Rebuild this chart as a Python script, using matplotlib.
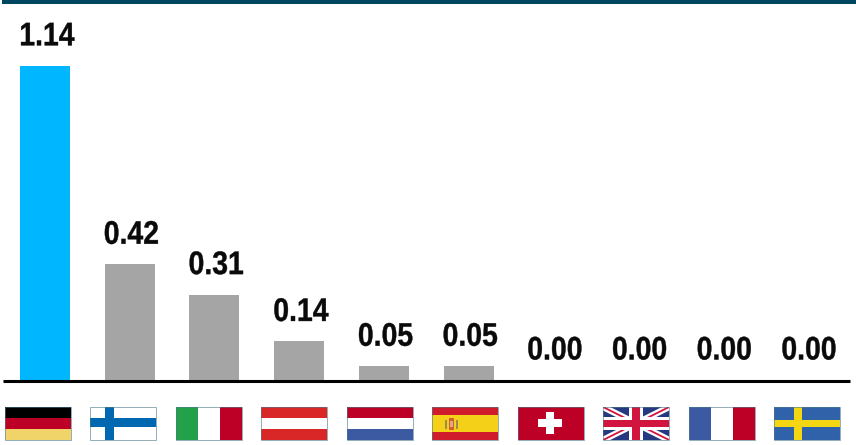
import matplotlib
matplotlib.use("Agg")
import matplotlib.pyplot as plt
import matplotlib.patheffects as pe
from matplotlib.patches import Rectangle
from matplotlib.transforms import Affine2D

# values per country
countries = ["DE", "FI", "IT", "AT", "NL", "ES", "CH", "GB", "FR", "SE"]
values = [1.14, 0.42, 0.31, 0.14, 0.05, 0.05, 0.00, 0.00, 0.00, 0.00]

W, H = 856, 445
BLUE = "#00b6ff"
GREY = "#a5a5a6"
DARK = "#004560"
RED = "#bd0026"
FLAG_BLUE = "#3c5aa2"
EDGE = "#4d7a8c"

plt.rcParams["font.family"] = ["Liberation Sans"]


class Narrow(pe.AbstractPathEffect):
    # squeeze text horizontally around its own centre, with a thin outline for weight
    def __init__(self, factor, stroke):
        super().__init__()
        self.factor = factor
        self.stroke = stroke

    def draw_path(self, renderer, gc, tpath, affine, rgbFace=None):
        box = tpath.get_extents(affine)
        cx = (box.x0 + box.x1) / 2
        squeeze = Affine2D().translate(-cx, 0).scale(self.factor, 1).translate(cx, 0)
        gc0 = renderer.new_gc()
        gc0.copy_properties(gc)
        gc0.set_linewidth(self.stroke)
        gc0.set_foreground(rgbFace)
        renderer.draw_path(gc0, tpath, affine + squeeze, rgbFace)
        gc0.restore()


fig = plt.figure(figsize=(W / 100, H / 100), dpi=100)

# bar axes, bottom edge sits on the baseline
ax = fig.add_axes([3 / W, (H - 380) / H, 847 / W, 380 / H])
pitch = 84.7
ax.set_xlim((3 - 45) / pitch, (850 - 45) / pitch)
ax.set_ylim(0, 380 / 275.6)
colors = [BLUE] + [GREY] * (len(values) - 1)
ax.bar(range(len(values)), values, width=50 / pitch, color=colors, zorder=1)
for i, v in enumerate(values):
    ax.annotate(f"{v:.2f}", (i, v), xytext=(1.2, 9.7), textcoords="offset points",
                ha="center", va="bottom", fontsize=23.5, fontweight="bold", color="#0a0a0a",
                path_effects=[Narrow(0.87, 0.3)])
for s in ["top", "left", "right"]:
    ax.spines[s].set_visible(False)
ax.spines["bottom"].set_linewidth(2.2)
ax.spines["bottom"].set_color("black")
ax.spines["bottom"].set_capstyle("butt")
ax.spines["bottom"].set_position(("outward", 0.4))
ax.set_xticks([])
ax.set_yticks([])
ax.patch.set_alpha(0)

# overlay in pixel coordinates for the header band and flags
ov = fig.add_axes([0, 0, 1, 1])
ov.set_xlim(0, W)
ov.set_ylim(H, 0)
ov.axis("off")
ov.patch.set_alpha(0)
ov.add_patch(Rectangle((2, 0), W - 2, 4, color=DARK, lw=0))


def box(x, y, w, h, fx0, fy0, fx1, fy1, col, z=1):
    ov.add_patch(Rectangle((x + fx0 * w, y + fy0 * h), (fx1 - fx0) * w, (fy1 - fy0) * h,
                           color=col, lw=0, zorder=z))


def hbands(x, y, w, h, cols):
    for k, c in enumerate(cols):
        box(x, y, w, h, 0, k / len(cols), 1, (k + 1) / len(cols), c)


def vbands(x, y, w, h, cols):
    for k, c in enumerate(cols):
        box(x, y, w, h, k / len(cols), 0, (k + 1) / len(cols), 1, c)


def nordic(x, y, w, h, bg, cross, cx0, cx1, cy0, cy1):
    box(x, y, w, h, 0, 0, 1, 1, bg)
    box(x, y, w, h, cx0, 0, cx1, 1, cross)
    box(x, y, w, h, 0, cy0, 1, cy1, cross)


def spain(x, y, w, h):
    hbands(x, y, w, h, ["#cf1b2b", "#f4d018", "#f4d018", "#cf1b2b"])
    box(x, y, w, h, 0.25, 0.32, 0.33, 0.70, "#d4602f")
    box(x, y, w, h, 0.27, 0.42, 0.31, 0.60, "#d9a890")
    box(x, y, w, h, 0.19, 0.40, 0.22, 0.68, "#a08a50")
    box(x, y, w, h, 0.36, 0.40, 0.39, 0.68, "#a08a50")


def swiss(x, y, w, h):
    box(x, y, w, h, 0, 0, 1, 1, RED)
    box(x, y, w, h, 0.31, 0.37, 0.68, 0.62, "white")
    box(x, y, w, h, 0.43, 0.15, 0.55, 0.83, "white")


def union(x, y, w, h):
    box(x, y, w, h, 0, 0, 1, 1, "#24397f", z=0.5)
    clip = Rectangle((x, y), w, h, transform=ov.transData)
    for x0, y0, x1, y1 in [(x, y, x + w, y + h), (x, y + h, x + w, y)]:
        ln, = ov.plot([x0, x1], [y0, y1], color="white", lw=4.6, solid_capstyle="butt", zorder=0.6)
        ln.set_clip_path(clip)
        ln, = ov.plot([x0, x1], [y0, y1], color="#d2153f", lw=1.3, solid_capstyle="butt", zorder=0.7)
        ln.set_clip_path(clip)
    box(x, y, w, h, 0.40, 0, 0.60, 1, "white")
    box(x, y, w, h, 0, 0.30, 1, 0.70, "white")
    box(x, y, w, h, 0.44, 0, 0.56, 1, "#d2153f")
    box(x, y, w, h, 0, 0.38, 1, 0.62, "#d2153f")


def draw_flag(code, x, y, w, h):
    if code == "DE":
        hbands(x, y, w, h, ["#000000", RED, "#f0d469"])
    elif code == "FI":
        nordic(x, y, w, h, "white", "#0067b1", 0.22, 0.36, 0.33, 0.61)
    elif code == "IT":
        vbands(x, y, w, h, ["#22a04a", "white", RED])
    elif code == "AT":
        hbands(x, y, w, h, ["#d92626", "white", "#d92626"])
    elif code == "NL":
        hbands(x, y, w, h, [RED, "white", FLAG_BLUE])
    elif code == "ES":
        spain(x, y, w, h)
    elif code == "CH":
        swiss(x, y, w, h)
    elif code == "GB":
        union(x, y, w, h)
    elif code == "FR":
        vbands(x, y, w, h, [FLAG_BLUE, "white", RED])
    elif code == "SE":
        nordic(x, y, w, h, "#2f62a8", "#f4d612", 0.30, 0.43, 0.38, 0.62)
    ov.add_patch(Rectangle((x, y), w, h, fill=False, ec=EDGE, lw=0.6, alpha=0.7, zorder=2))


for i, code in enumerate(countries):
    draw_flag(code, 4.6 + 85.5 * i, 407, 66, 33)

fig.savefig("out.png", dpi=100)
